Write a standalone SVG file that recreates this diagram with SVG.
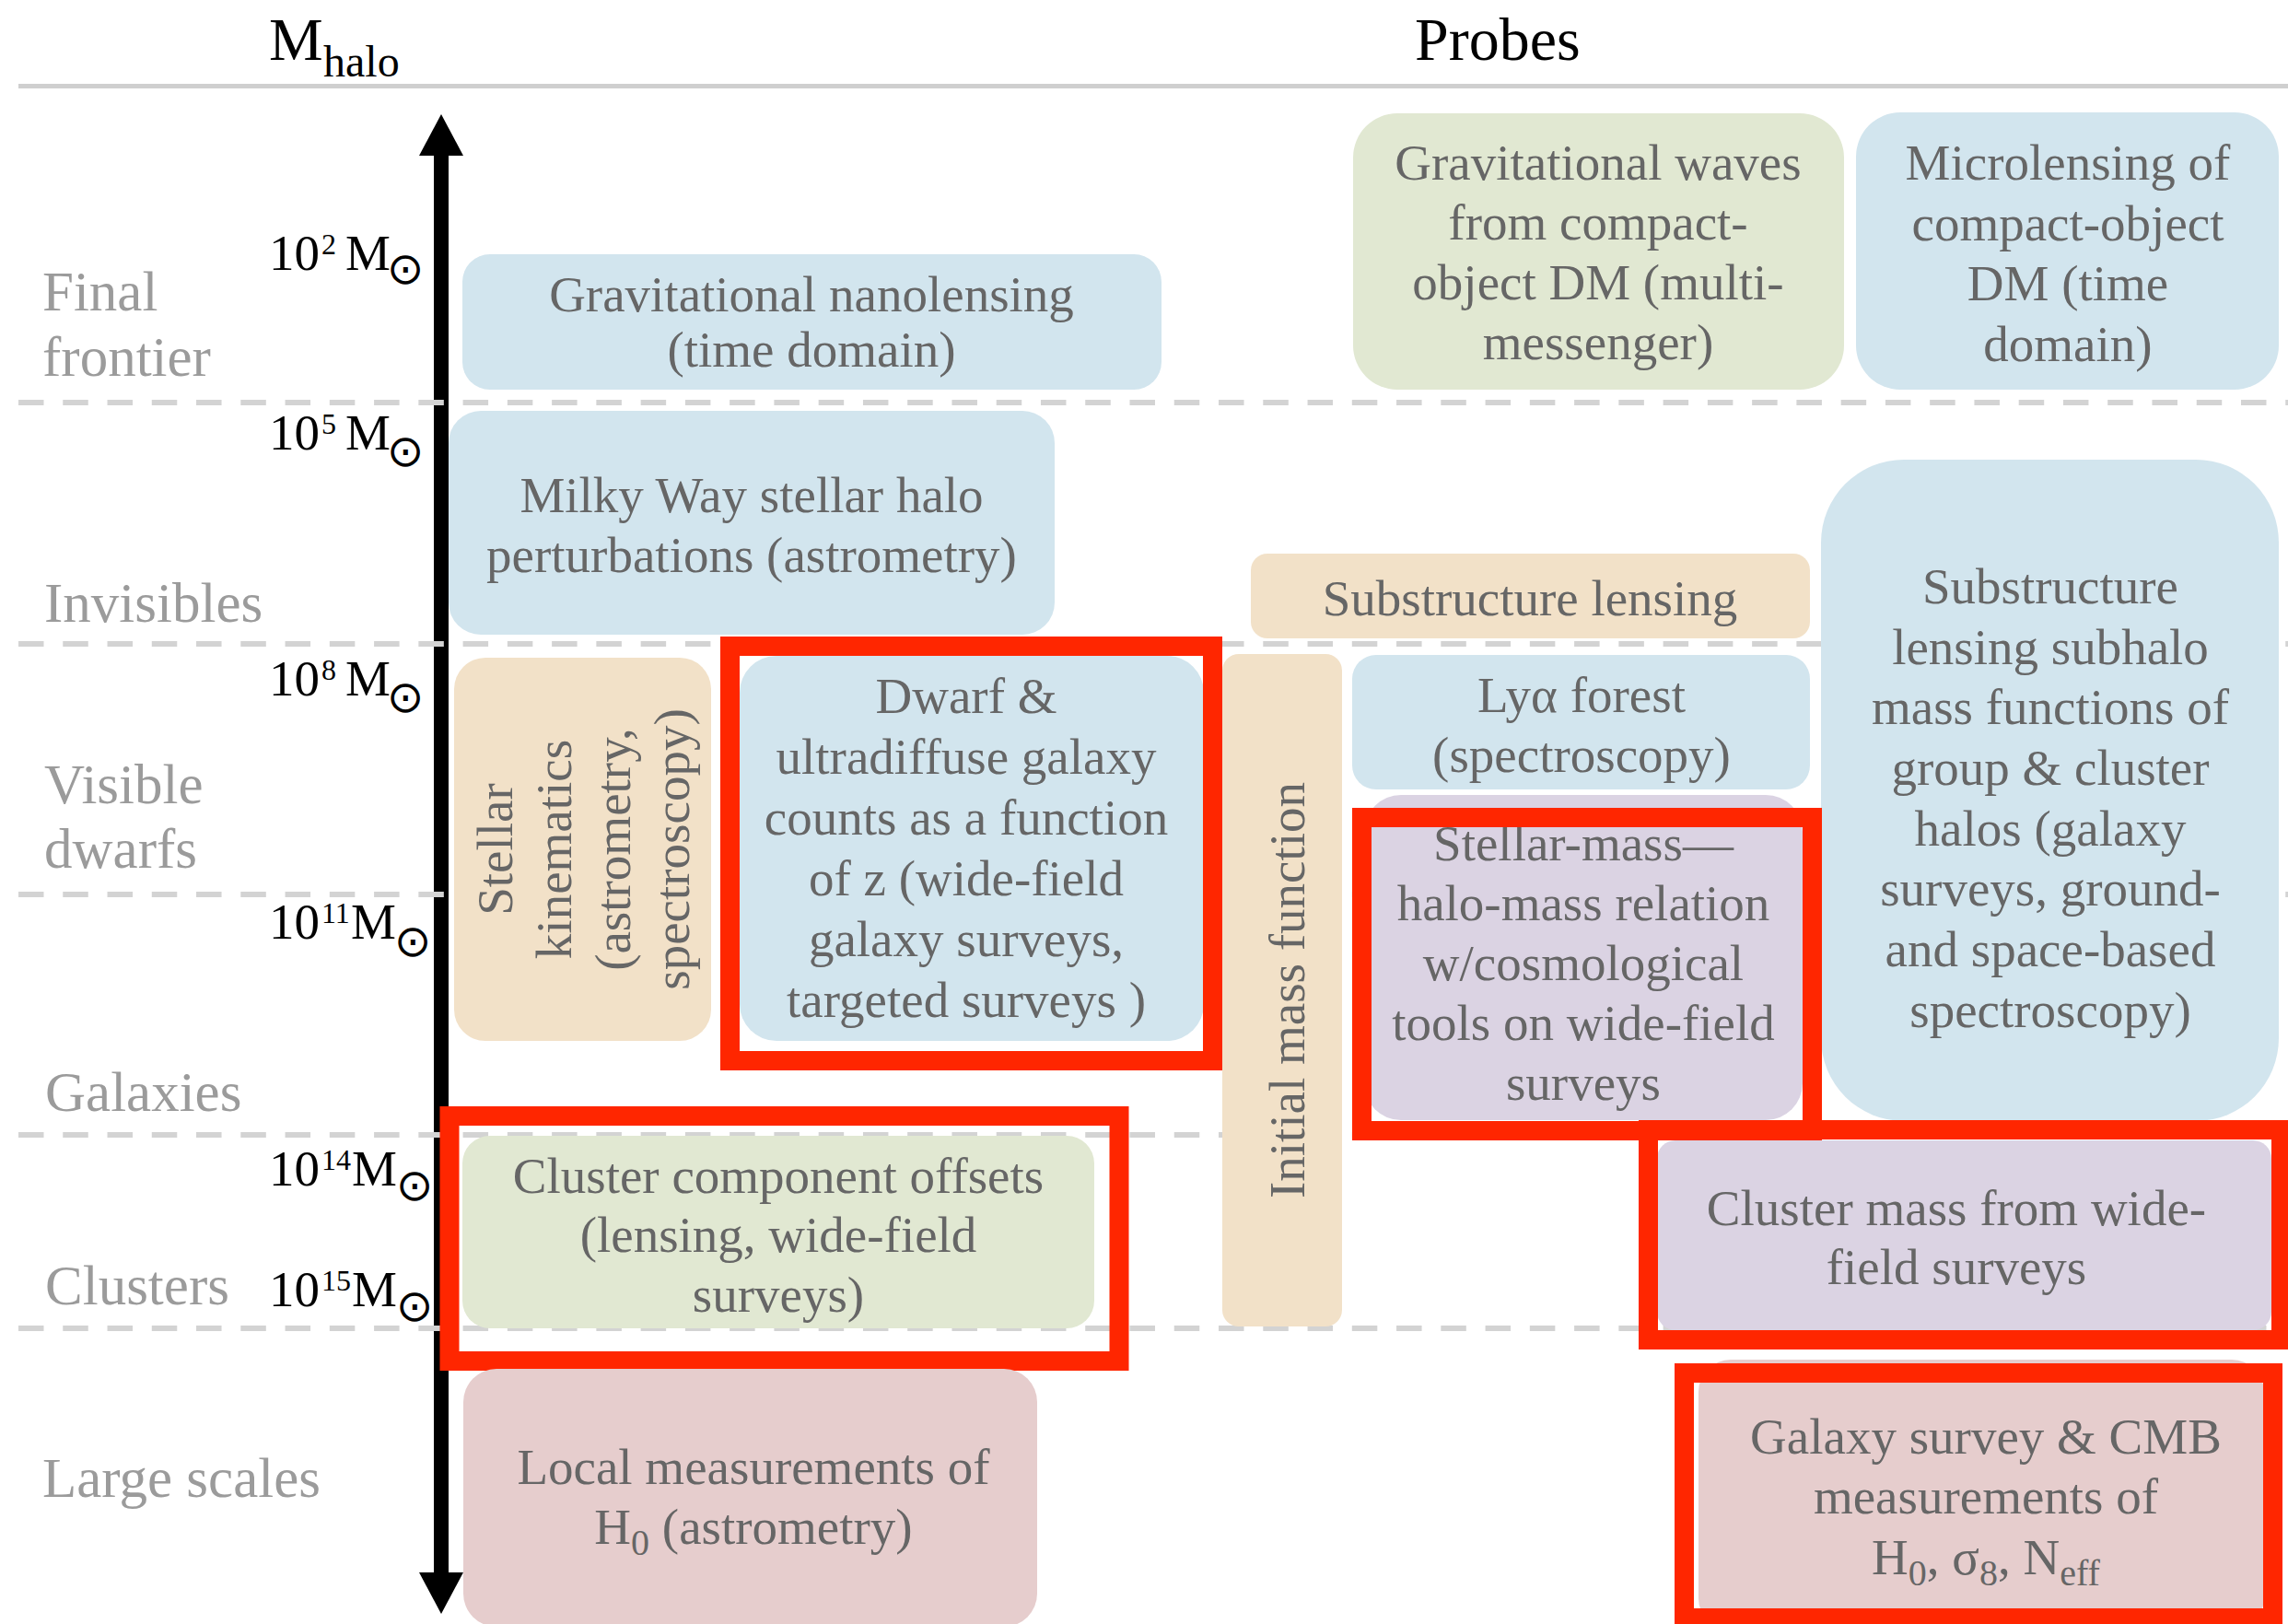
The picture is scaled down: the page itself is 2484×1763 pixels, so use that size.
<svg xmlns="http://www.w3.org/2000/svg" width="2484" height="1763" viewBox="0 0 2484 1763">
  <defs>
    <style>
      text { font-family: "Liberation Serif", "Times New Roman", serif; }
      .title { font-size: 66px; fill: #000; }
      .sub { font-size: 48px; }
      .band { font-size: 61px; fill: #9b9b9b; }
      .tick { font-size: 55px; fill: #000; }
      .sup { font-size: 32px; }
      .sun { font-family: "DejaVu Sans", sans-serif; font-size: 48px; fill: #000; text-anchor: middle; }
      .label { font-size: 55px; fill: #666; text-anchor: middle; }
      .idx { font-size: 40px; }
      .blue { fill: #d2e5ee; }
      .green { fill: #e1e8d2; }
      .tan { fill: #f2e1c8; }
      .purple { fill: #dbd3e3; }
      .pink { fill: #e6cdcd; }
      .frame { fill: none; stroke: #ff2600; stroke-width: 21; }
      .dash { stroke: #d3d3d3; stroke-width: 6; stroke-dasharray: 27.5 20.76; fill: none; }
    </style>
    <marker id="axis-head" viewBox="0 0 45 48" refX="0" refY="24" markerWidth="45" markerHeight="48" markerUnits="userSpaceOnUse" orient="auto-start-reverse">
      <path d="M0,0 L45,24 L0,48 z" fill="#000"/>
    </marker>
  </defs>

  <rect width="2484" height="1763" fill="#fff"/>

  <!-- column headings -->
  <g id="headings">
    <text class="title" x="292" y="65">M<tspan class="sub" x="351" y="83">halo</tspan></text>
    <text class="title" x="1536" y="65">Probes</text>
    <line x1="20" y1="93.5" x2="2484" y2="93.5" stroke="#cfcfcf" stroke-width="5"/>
  </g>

  <!-- halo-mass axis -->
  <g id="mass-axis">
    <line x1="479" y1="169" x2="479" y2="1707" stroke="#000" stroke-width="16" marker-start="url(#axis-head)" marker-end="url(#axis-head)"/>
  </g>

  <!-- band separators -->
  <g id="band-separators">
    <line class="dash" x1="20" y1="437" x2="2484" y2="437"/>
    <line class="dash" x1="20" y1="699" x2="2484" y2="699"/>
    <line class="dash" x1="20" y1="971" x2="2484" y2="971"/>
    <line class="dash" x1="20" y1="1232" x2="2484" y2="1232"/>
    <line class="dash" x1="20" y1="1442" x2="2484" y2="1442"/>
  </g>

  <!-- band names -->
  <g id="band-names">
    <text class="band" x="46" y="337">Final</text>
    <text class="band" x="46" y="408">frontier</text>
    <text class="band" x="48" y="675">Invisibles</text>
    <text class="band" x="48" y="872">Visible</text>
    <text class="band" x="48" y="942">dwarfs</text>
    <text class="band" x="49" y="1206">Galaxies</text>
    <text class="band" x="49" y="1416">Clusters</text>
    <text class="band" x="46" y="1625">Large scales</text>
  </g>

  <!-- mass ticks -->
  <g id="mass-ticks">
    <text class="tick" x="292" y="293">10<tspan class="sup" x="349" y="276">2</tspan><tspan x="375" y="293">M</tspan></text>
    <text class="sun" x="440" y="308">⊙</text>
    <text class="tick" x="292" y="488">10<tspan class="sup" x="349" y="471">5</tspan><tspan x="375" y="488">M</tspan></text>
    <text class="sun" x="440" y="506">⊙</text>
    <text class="tick" x="292" y="755">10<tspan class="sup" x="349" y="738">8</tspan><tspan x="375" y="755">M</tspan></text>
    <text class="sun" x="440" y="773">⊙</text>
    <text class="tick" x="292" y="1019">10<tspan class="sup" x="349" y="1002">11</tspan><tspan x="381" y="1019">M</tspan></text>
    <text class="sun" x="448" y="1038">⊙</text>
    <text class="tick" x="292" y="1287">10<tspan class="sup" x="349" y="1270">14</tspan><tspan x="382" y="1287">M</tspan></text>
    <text class="sun" x="450" y="1303">⊙</text>
    <text class="tick" x="292" y="1418">10<tspan class="sup" x="349" y="1401">15</tspan><tspan x="382" y="1418">M</tspan></text>
    <text class="sun" x="450" y="1434">⊙</text>
  </g>

  <!-- probes -->
  <g id="nanolensing">
    <rect class="blue" x="502" y="276" width="759" height="147" rx="30"/>
    <text class="label"><tspan x="881" y="338">Gravitational nanolensing</tspan><tspan x="881" y="398">(time domain)</tspan></text>
  </g>

  <g id="gravitational-waves">
    <rect class="green" x="1469" y="123" width="533" height="300" rx="48"/>
    <text class="label"><tspan x="1735" y="195">Gravitational waves</tspan><tspan x="1735" y="260">from compact-</tspan><tspan x="1735" y="325">object DM (multi-</tspan><tspan x="1735" y="390">messenger)</tspan></text>
  </g>

  <g id="microlensing">
    <rect class="blue" x="2015" y="122" width="459" height="301" rx="48"/>
    <text class="label"><tspan x="2245" y="195">Microlensing of</tspan><tspan x="2245" y="261">compact-object</tspan><tspan x="2245" y="326">DM (time</tspan><tspan x="2245" y="392">domain)</tspan></text>
  </g>

  <g id="milky-way-halo">
    <rect class="blue" x="487" y="446" width="658" height="243" rx="35"/>
    <text class="label"><tspan x="816" y="556">Milky Way stellar halo</tspan><tspan x="816" y="621">perturbations (astrometry)</tspan></text>
  </g>

  <g id="substructure-lensing">
    <rect class="tan" x="1358" y="601" width="607" height="92" rx="18"/>
    <text class="label" x="1661" y="668">Substructure lensing</text>
  </g>

  <g id="subhalo-mass-functions">
    <rect class="blue" x="1977" y="499" width="497" height="718" rx="90"/>
    <text class="label"><tspan x="2226" y="655">Substructure</tspan><tspan x="2226" y="721">lensing subhalo</tspan><tspan x="2226" y="786">mass functions of</tspan><tspan x="2226" y="852">group &amp; cluster</tspan><tspan x="2226" y="918">halos (galaxy</tspan><tspan x="2226" y="983">surveys, ground-</tspan><tspan x="2226" y="1049">and space-based</tspan><tspan x="2226" y="1115">spectroscopy)</tspan></text>
  </g>

  <g id="stellar-kinematics">
    <rect class="tan" x="493" y="714" width="279" height="416" rx="34"/>
    <text class="label" x="556" y="922" transform="rotate(-90 556 922)">Stellar</text>
    <text class="label" x="620" y="922" transform="rotate(-90 620 922)">kinematics</text>
    <text class="label" x="684" y="922" transform="rotate(-90 684 922)">(astrometry,</text>
    <text class="label" x="748" y="922" transform="rotate(-90 748 922)">spectroscopy)</text>
  </g>

  <g id="dwarf-counts">
    <rect class="blue" x="803" y="712" width="504" height="418" rx="40"/>
    <text class="label"><tspan x="1049" y="774">Dwarf &amp;</tspan><tspan x="1049" y="840">ultradiffuse galaxy</tspan><tspan x="1049" y="906">counts as a function</tspan><tspan x="1049" y="972">of z (wide-field</tspan><tspan x="1049" y="1038">galaxy surveys,</tspan><tspan x="1049" y="1104">targeted surveys )</tspan></text>
    <rect class="frame" x="792.5" y="701.5" width="524" height="450"/>
  </g>

  <g id="initial-mass-function">
    <rect class="tan" x="1327" y="710" width="130" height="730" rx="18"/>
    <text class="label" x="1416" y="1075" transform="rotate(-90 1416 1075)">Initial mass function</text>
  </g>

  <g id="lyman-alpha-forest">
    <rect class="blue" x="1468" y="711" width="497" height="146" rx="26"/>
    <text class="label"><tspan x="1717" y="773">Lyα forest</tspan><tspan x="1717" y="838">(spectroscopy)</tspan></text>
  </g>

  <g id="stellar-halo-mass-relation">
    <rect class="purple" x="1481" y="863" width="476" height="353" rx="40"/>
    <text class="label"><tspan x="1719" y="934">Stellar-mass—</tspan><tspan x="1719" y="999">halo-mass relation</tspan><tspan x="1719" y="1064">w/cosmological</tspan><tspan x="1719" y="1129">tools on wide-field</tspan><tspan x="1719" y="1194">surveys</tspan></text>
    <rect class="frame" x="1478.5" y="887.5" width="489" height="340"/>
  </g>

  <g id="cluster-offsets">
    <rect class="green" x="502" y="1233" width="686" height="209" rx="30"/>
    <text class="label"><tspan x="845" y="1295">Cluster component offsets</tspan><tspan x="845" y="1359">(lensing, wide-field</tspan><tspan x="845" y="1424">surveys)</tspan></text>
    <rect class="frame" x="488" y="1211.5" width="727" height="266"/>
  </g>

  <g id="cluster-mass">
    <rect class="purple" x="1799" y="1238" width="667" height="206" rx="20"/>
    <text class="label"><tspan x="2124" y="1330">Cluster mass from wide-</tspan><tspan x="2124" y="1394">field surveys</tspan></text>
    <rect class="frame" x="1789.5" y="1226.5" width="687" height="228"/>
  </g>

  <g id="local-h0">
    <rect class="pink" x="503" y="1486" width="623" height="280" rx="36"/>
    <text class="label"><tspan x="818" y="1611">Local measurements of</tspan><tspan x="818" y="1676">H<tspan class="idx" dy="12">0</tspan><tspan dy="-12"> (astrometry)</tspan></tspan></text>
  </g>

  <g id="galaxy-cmb">
    <rect class="pink" x="1844" y="1476" width="614" height="294" rx="35"/>
    <text class="label"><tspan x="2156" y="1578">Galaxy survey &amp; CMB</tspan><tspan x="2156" y="1643">measurements of</tspan><tspan x="2156" y="1709">H<tspan class="idx" dy="12">0</tspan><tspan dy="-12">, σ</tspan><tspan class="idx" dy="12">8</tspan><tspan dy="-12">, N</tspan><tspan class="idx" dy="12">eff</tspan></tspan></text>
    <rect class="frame" x="1828.5" y="1490.5" width="639" height="266"/>
  </g>
</svg>
